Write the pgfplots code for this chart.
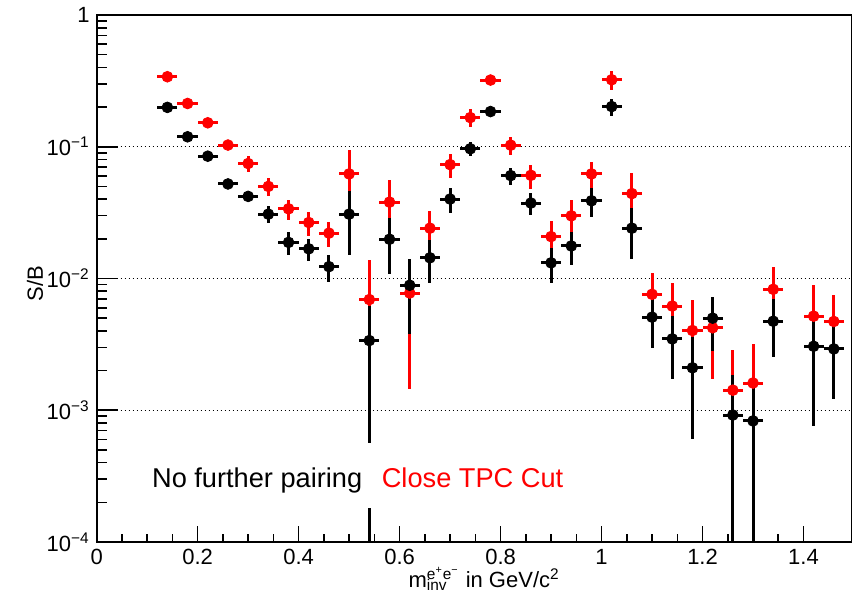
\documentclass[border=0pt]{standalone}
\usepackage{fontspec}
\setmainfont{Liberation Sans}
\usepackage{pgfplots}
\pgfplotsset{compat=1.18}
\usepackage{pgfplotstable}

% Close TPC Cut (red)
\pgfplotstableread{
x    y        ex    ep       em
0.14 0.340    0.02  0.015    0.015
0.18 0.213    0.02  0.010    0.010
0.22 0.152    0.02  0.008    0.008
0.26 0.103    0.02  0.006    0.006
0.30 0.0746   0.02  0.010    0.010
0.34 0.050    0.02  0.008    0.008
0.38 0.0338   0.02  0.0058   0.0058
0.42 0.0266   0.02  0.0056   0.0056
0.46 0.0221   0.02  0.0049   0.0049
0.50 0.0622   0.02  0.033    0.025
0.54 0.00692  0.02  0.0070   0.0060
0.58 0.0380   0.02  0.018    0.018
0.62 0.00776  0.02  0.0063   0.0063
0.66 0.0241   0.02  0.0087   0.0087
0.70 0.0732   0.02  0.0153   0.0153
0.74 0.1665   0.02  0.026    0.026
0.78 0.3208   0.02  0.015    0.015
0.82 0.1028   0.02  0.0164   0.0164
0.86 0.0607   0.02  0.0125   0.0125
0.90 0.0208   0.02  0.0066   0.0066
0.94 0.0299   0.02  0.0092   0.0092
0.98 0.0622   0.02  0.015    0.015
1.02 0.3224   0.02  0.055    0.055
1.06 0.0441   0.02  0.019    0.019
1.10 0.00759  0.02  0.0035   0.0035
1.14 0.00618  0.02  0.0031   0.0031
1.18 0.00403  0.02  0.0028   0.0028
1.22 0.00423  0.02  0.0025   0.0025
1.26 0.00142  0.02  0.00145  0.0013
1.30 0.00161  0.02  0.0016   0.0015
1.34 0.00828  0.02  0.0040   0.0040
1.42 0.00518  0.02  0.0038   0.0038
1.46 0.00472  0.02  0.0028   0.0028
}\redtab

% No further pairing (black)
\pgfplotstableread{
x    y        ex    ep       em
0.14 0.199    0.02  0.008    0.008
0.18 0.119    0.02  0.006    0.006
0.22 0.0848   0.02  0.004    0.004
0.26 0.0522   0.02  0.003    0.003
0.30 0.042    0.02  0.003    0.003
0.34 0.0308   0.02  0.0044   0.0044
0.38 0.0188   0.02  0.0037   0.0037
0.42 0.0168   0.02  0.0032   0.0032
0.46 0.0123   0.02  0.0029   0.0029
0.50 0.0308   0.02  0.0156   0.0156
0.54 0.00338  0.02  0.0028   0.00282
0.58 0.01986  0.02  0.0090   0.0090
0.62 0.00889  0.02  0.0051   0.0051
0.66 0.01436  0.02  0.0051   0.0051
0.70 0.0401   0.02  0.0086   0.0086
0.74 0.0965   0.02  0.012    0.012
0.78 0.185    0.02  0.010    0.010
0.82 0.0604   0.02  0.0088   0.0088
0.86 0.0374   0.02  0.0070   0.0070
0.90 0.01315  0.02  0.0039   0.0039
0.94 0.01766  0.02  0.0050   0.0050
0.98 0.0389   0.02  0.0098   0.0098
1.02 0.2018   0.02  0.030    0.030
1.06 0.0241   0.02  0.0101   0.0101
1.10 0.00509  0.02  0.0021   0.0021
1.14 0.00348  0.02  0.00175  0.00175
1.18 0.00210  0.02  0.0015   0.0015
1.22 0.0050   0.02  0.0022   0.0022
1.26 0.00092  0.02  0.00094  0.00087
1.30 0.00083  0.02  0.00085  0.00078
1.34 0.00474  0.02  0.0022   0.0022
1.42 0.00306  0.02  0.0023   0.0023
1.46 0.00292  0.02  0.0017   0.0017
}\blacktab

\begin{document}
\begin{tikzpicture}
\begin{axis}[
  name=ax,
  scale only axis,
  width=377.65pt, height=263.5pt,
  xmin=0, xmax=1.496,
  ymode=log, ymin=1e-4, ymax=1,
  axis line style={line width=1pt},
  every tick/.style={black, line width=0.8pt},
  tick align=inside,
  xtick pos=left, ytick pos=left,
  xtick={0,0.2,0.4,0.6,0.8,1,1.2,1.4},
  xticklabels={0,0.2,0.4,0.6,0.8,1,1.2,1.4},
  minor x tick num=3,
  ytick={1e-4,1e-3,1e-2,1e-1,1},
  yticklabels={10\textsuperscript{−4},10\textsuperscript{−3},10\textsuperscript{−2},10\textsuperscript{−1},1},
  major tick length=8pt, minor tick length=4pt,
  major y tick style={/pgfplots/major tick length=10.5pt},
  minor y tick style={/pgfplots/minor tick length=5.3pt},
  ticklabel style={font=\fontsize{11}{13}\selectfont},
  ymajorgrids,
  major grid style={black, line width=0.7pt, dash pattern=on 0.7pt off 1.3pt},
  xlabel={m\rlap{\textsubscript{inv}}\textsuperscript{e\textsuperscript{+}e\textsuperscript{−}} in GeV/c\textsuperscript{2}},
  xlabel style={at={(axis description cs:0.513,0)}, anchor=base, yshift=-22.5pt, font=\fontsize{11}{13}\selectfont},
  ylabel={S/B},
  ylabel style={at={(axis description cs:0,0.49)}, anchor=center, yshift=30.85pt, font=\fontsize{11}{13}\selectfont},
]
\addplot[red, only marks, mark=*, mark size=2.7pt,
  error bars/.cd, x dir=both, x explicit, y dir=both, y explicit,
  error mark=none, error bar style={line width=1.5pt, red}]
  table[x=x, y=y, x error=ex, y error plus=ep, y error minus=em] {\redtab};
\addplot[black, only marks, mark=*, mark size=2.7pt,
  error bars/.cd, x dir=both, x explicit, y dir=both, y explicit,
  error mark=none, error bar style={line width=1.5pt, black}]
  table[x=x, y=y, x error=ex, y error plus=ep, y error minus=em] {\blacktab};
% short black error-bar segment at the bottom of the 0.54 bin
\addplot[black, only marks, mark=none, forget plot,
  error bars/.cd, y dir=plus, y explicit,
  error mark=none, error bar style={line width=1.5pt, black}]
  coordinates {(0.54,1e-5) +- (0,1.71e-4)};
\node[anchor=base west, inner sep=0pt, font=\fontsize{13.6}{16}\selectfont] at (axis cs:0.109,2.61e-4) {No further pairing};
\node[anchor=base west, inner sep=0pt, red, font=\fontsize{13.6}{16}\selectfont] at (axis cs:0.564,2.61e-4) {Close TPC Cut};
\end{axis}
\pgfresetboundingbox
\useasboundingbox ([shift={(-48.35pt,-25.5pt)}]ax.south west) rectangle ([shift={(0pt,7.5pt)}]ax.north east);
\end{tikzpicture}
\end{document}
